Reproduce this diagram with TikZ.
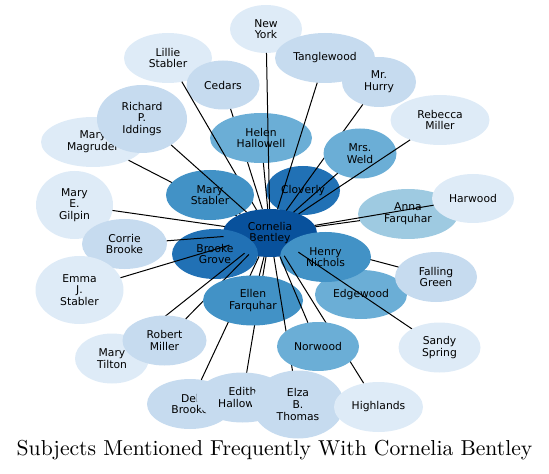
\documentclass[tikz,border=0pt]{standalone}
\usepackage{fontspec}
\newfontfamily\lblfont{DejaVu Sans}
\newfontfamily\titlefont{lmroman10-regular.otf}
\usetikzlibrary{shapes.geometric}
\definecolor{b1}{HTML}{DEEBF7}
\definecolor{b2}{HTML}{C6DBEF}
\definecolor{b3}{HTML}{9ECAE1}
\definecolor{b4}{HTML}{6BAED6}
\definecolor{b5}{HTML}{4292C6}
\definecolor{b6}{HTML}{2171B5}
\definecolor{b7}{HTML}{08519C}
\tikzset{
  geo/.style={ellipse, inner sep=0pt, outer sep=0pt, draw=none},
  vis/.style={ellipse, inner sep=0pt, outer sep=0pt, draw=none, text=black, align=center,
    font=\lblfont\fontsize{10.8}{11.7}\selectfont},
  edge/.style={draw=black, line width=1bp},
  title/.style={font=\titlefont\fontsize{21.7}{24}\selectfont, anchor=base, inner sep=0pt}
}
\newcommand\mkgeo[5]{%
  \expandafter\gdef\csname gw#1\endcsname{#4}%
  \expandafter\gdef\csname gh#1\endcsname{#5}%
  \path node[geo, minimum width=#4bp, minimum height=#5bp] (#1) at (#2,#3) {};}
\newcommand\mkvis[3]{%
  \node[vis, fill=#2, minimum width=\csname gw#1\endcsname bp,
    minimum height=\csname gh#1\endcsname bp] (#1-v) at (#1.center) {#3};}
\begin{document}
\begin{tikzpicture}[x=1bp,y=-1bp]
\useasboundingbox (0,0) rectangle (549,474);
% geometry (invisible)
\mkgeo{cb}{270}{233}{94}{48}
\mkgeo{ny}{266}{29}{72}{48}
\mkgeo{tw}{325}{58}{100}{50}
\mkgeo{mh}{379}{82}{74}{50}
\mkgeo{rm}{440}{120}{99}{50}
\mkgeo{mw}{360}{153.5}{73}{50}
\mkgeo{cl}{303}{190.5}{74}{49}
\mkgeo{hw}{473}{198.5}{82}{49}
\mkgeo{af}{408}{214}{100}{50}
\mkgeo{hn}{325.5}{257}{91}{50}
\mkgeo{ew}{361}{294.5}{92}{49}
\mkgeo{fg}{436}{277}{82}{50}
\mkgeo{ss}{439.5}{347.5}{82}{50}
\mkgeo{nw}{318}{346.5}{82}{49}
\mkgeo{hl}{378.5}{407}{89}{50}
\mkgeo{et}{298}{404.5}{92}{68}
\mkgeo{ed}{242.5}{397.5}{92}{50}
\mkgeo{db}{190}{404}{86}{50}
\mkgeo{ef}{253}{300.5}{100}{50}
\mkgeo{ro}{164.5}{340.5}{84}{50}
\mkgeo{mt}{112}{358.5}{74}{50}
\mkgeo{em}{79.5}{290}{88}{68}
\mkgeo{cr}{124.5}{244}{85}{50}
\mkgeo{bg}{215}{254}{86}{50}
\mkgeo{gi}{74.5}{205}{77}{68}
\mkgeo{mm}{93}{142}{104}{50}
\mkgeo{ri}{142}{119}{90}{68}
\mkgeo{ms}{210}{195}{88}{50}
\mkgeo{ls}{168}{58}{88}{50}
\mkgeo{ce}{223}{85}{73}{49}
\mkgeo{hh}{261}{138}{102}{50}
% drawing in layered order
\mkvis{ny}{b1}{New\\York}
\mkvis{tw}{b2}{Tanglewood}
\mkvis{mh}{b2}{Mr.\\Hurry}
\mkvis{ls}{b1}{Lillie\\Stabler}
\mkvis{ce}{b2}{Cedars}
\draw[edge] (ce) -- (cb);
\mkvis{hh}{b4}{Helen\\Hallowell}
\draw[edge] (ls) -- (cb);
\mkvis{mm}{b1}{Mary\\Magruder}
\draw[edge] (mm) -- (cb);
\mkvis{ri}{b2}{Richard\\P.\\Iddings}
\mkvis{ms}{b5}{Mary\\Stabler}
\draw[edge] (ms) -- (cb);
\draw[edge] (ri) -- (cb);
\mkvis{cl}{b6}{Cloverly}
\draw[edge] (hh) -- (cb);
\draw[edge] (ny) -- (cb);
\mkvis{ew}{b4}{Edgewood}
\mkvis{fg}{b2}{Falling\\Green}
\draw[edge] (fg) -- (cb);
\draw[edge] (ew) -- (cb);
\mkvis{cb}{b7}{Cornelia\\Bentley}
\mkvis{bg}{b6}{Brooke\\Grove}
\mkvis{hn}{b5}{Henry\\Nichols}
\mkvis{gi}{b1}{Mary\\E.\\Gilpin}
\draw[edge] (gi) -- (cb);
\mkvis{cr}{b2}{Corrie\\Brooke}
\draw[edge] (cr) -- (cb);
\mkvis{em}{b1}{Emma\\J.\\Stabler}
\draw[edge] (em) -- (cb);
\mkvis{mt}{b1}{Mary\\Tilton}
\draw[edge] (mt) -- (cb);
\mkvis{ro}{b2}{Robert\\Miller}
\draw[edge] (ro) -- (cb);
\mkvis{db}{b2}{Del\\Brooke}
\draw[edge] (db) -- (cb);
\mkvis{ed}{b2}{Edith\\Hallowell}
\draw[edge] (ed) -- (cb);
\mkvis{ef}{b5}{Ellen\\Farquhar}
\draw[edge] (ef) -- (cb);
\mkvis{et}{b2}{Elza\\B.\\Thomas}
\draw[edge] (et) -- (cb);
\draw[edge] (hl) -- (cb);
\draw[edge] (nw) -- (cb);
\mkvis{nw}{b4}{Norwood}
\mkvis{hl}{b1}{Highlands}
\draw[edge] (tw) -- (cb);
\draw[edge] (mh) -- (cb);
\mkvis{mw}{b4}{Mrs.\\Weld}
\draw[edge] (mw) -- (cb);
\mkvis{rm}{b1}{Rebecca\\Miller}
\draw[edge] (rm) -- (cb);
\draw[edge] (ss) -- (cb);
\mkvis{ss}{b1}{Sandy\\Spring}
\mkvis{af}{b3}{Anna\\Farquhar}
\draw[edge] (af) -- (cb);
\mkvis{hw}{b1}{Harwood}
\draw[edge] (hw) -- (cb);
\node[title] (ttl) at (274.5,455) {Subjects Mentioned Frequently With Cornelia Bentley};
\end{tikzpicture}
\end{document}
